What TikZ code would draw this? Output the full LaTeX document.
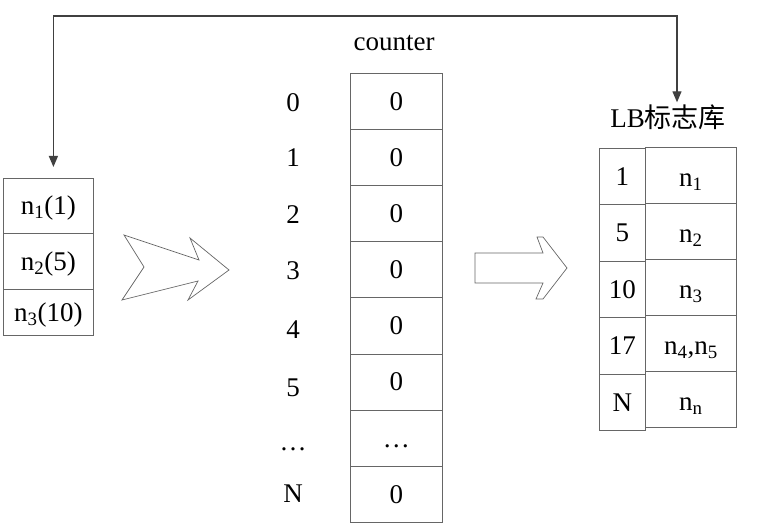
\documentclass[tikz,border=0pt]{standalone}
\usepackage{fontspec}
\setmainfont{Liberation Serif}
\newfontfamily\cjk{Noto Sans CJK SC}
\usetikzlibrary{arrows.meta,positioning}

\definecolor{cellgray}{HTML}{666666}
\definecolor{linkgray}{HTML}{404040}

\tikzset{
  cell/.style={draw=cellgray, line width=0.8pt, inner sep=0pt, anchor=north west, text height=18pt, text depth=0pt},
  hollow/.style={draw=cellgray, line width=0.7pt, fill=white},
  link/.style={draw=linkgray, line width=1.2pt, {Triangle[width=9pt,length=11pt]}-{Triangle[width=9pt,length=11pt]}}
}

\begin{document}
\begin{tikzpicture}[x=1pt,y=-1pt,font=\fontsize{27}{32}\selectfont]
  \useasboundingbox (0,0) rectangle (765,529);

  %draw input list
  \node[cell,minimum width=90pt,minimum height=55pt] (n1) at (3,178) {n\textsubscript{1}(1)};
  \node[cell,minimum width=90pt,minimum height=56pt] (n2) at (3,233) {n\textsubscript{2}(5)};
  \node[cell,minimum width=90pt,minimum height=46pt] (n3) at (3,289) {n\textsubscript{3}(10)};

  %draw hollow arrows
  \draw[hollow] (124,235) -- (199,260) -- (190,238) -- (229,270) -- (188,300)
    -- (198,281) -- (122,300) -- (144,267) -- cycle;
  \draw[hollow] (475,253) -- (543,253) -- (537,237) -- (543,237) -- (567,268)
    -- (543,299) -- (536,299) -- (543,283) -- (475,283) -- cycle;

  %draw counter array
  \node (counter) at (394,43) {counter};
  \foreach \i/\v/\k/\ky in {0/0/0/103,1/0/1/158,2/0/2/215,3/0/3/271,4/0/4/330,5/0/5/388,6/{\dots}/{\dots}/449,7/0/N/494}
  {
    \node[cell,minimum width=92pt,minimum height=56.1pt] (c\i) at (350,{73+56.1*\i}) {\v};
    \node (k\i) at (293,\ky) {\k};
  }

  %draw LB table
  \node[inner sep=2pt] (lb) at (668,117) {LB{\cjk 标志库}};
  \foreach \i/\a/\b in {0/1/{n\textsubscript{1}},1/5/{n\textsubscript{2}},2/10/{n\textsubscript{3}},3/17/{n\textsubscript{4},n\textsubscript{5}},4/N/{n\textsubscript{n}}}
  {
    \node[cell,minimum width=46pt,minimum height=56.4pt] (a\i) at (599,{148+56.4*\i}) {\a};
    \node[cell,minimum width=91pt,minimum height=56pt,text height=23pt] (b\i) at (645,{147+56*\i}) {\b};
  }

  %draw feedback line
  \coordinate (top) at (0,16);
  \coordinate (inL) at ([xshift=5pt,yshift=11pt]n1.north);
  \coordinate (inR) at ([xshift=9pt]lb.north);
  \draw[link] (inL) -- (inL |- top) -| (inR);
\end{tikzpicture}
\end{document}
